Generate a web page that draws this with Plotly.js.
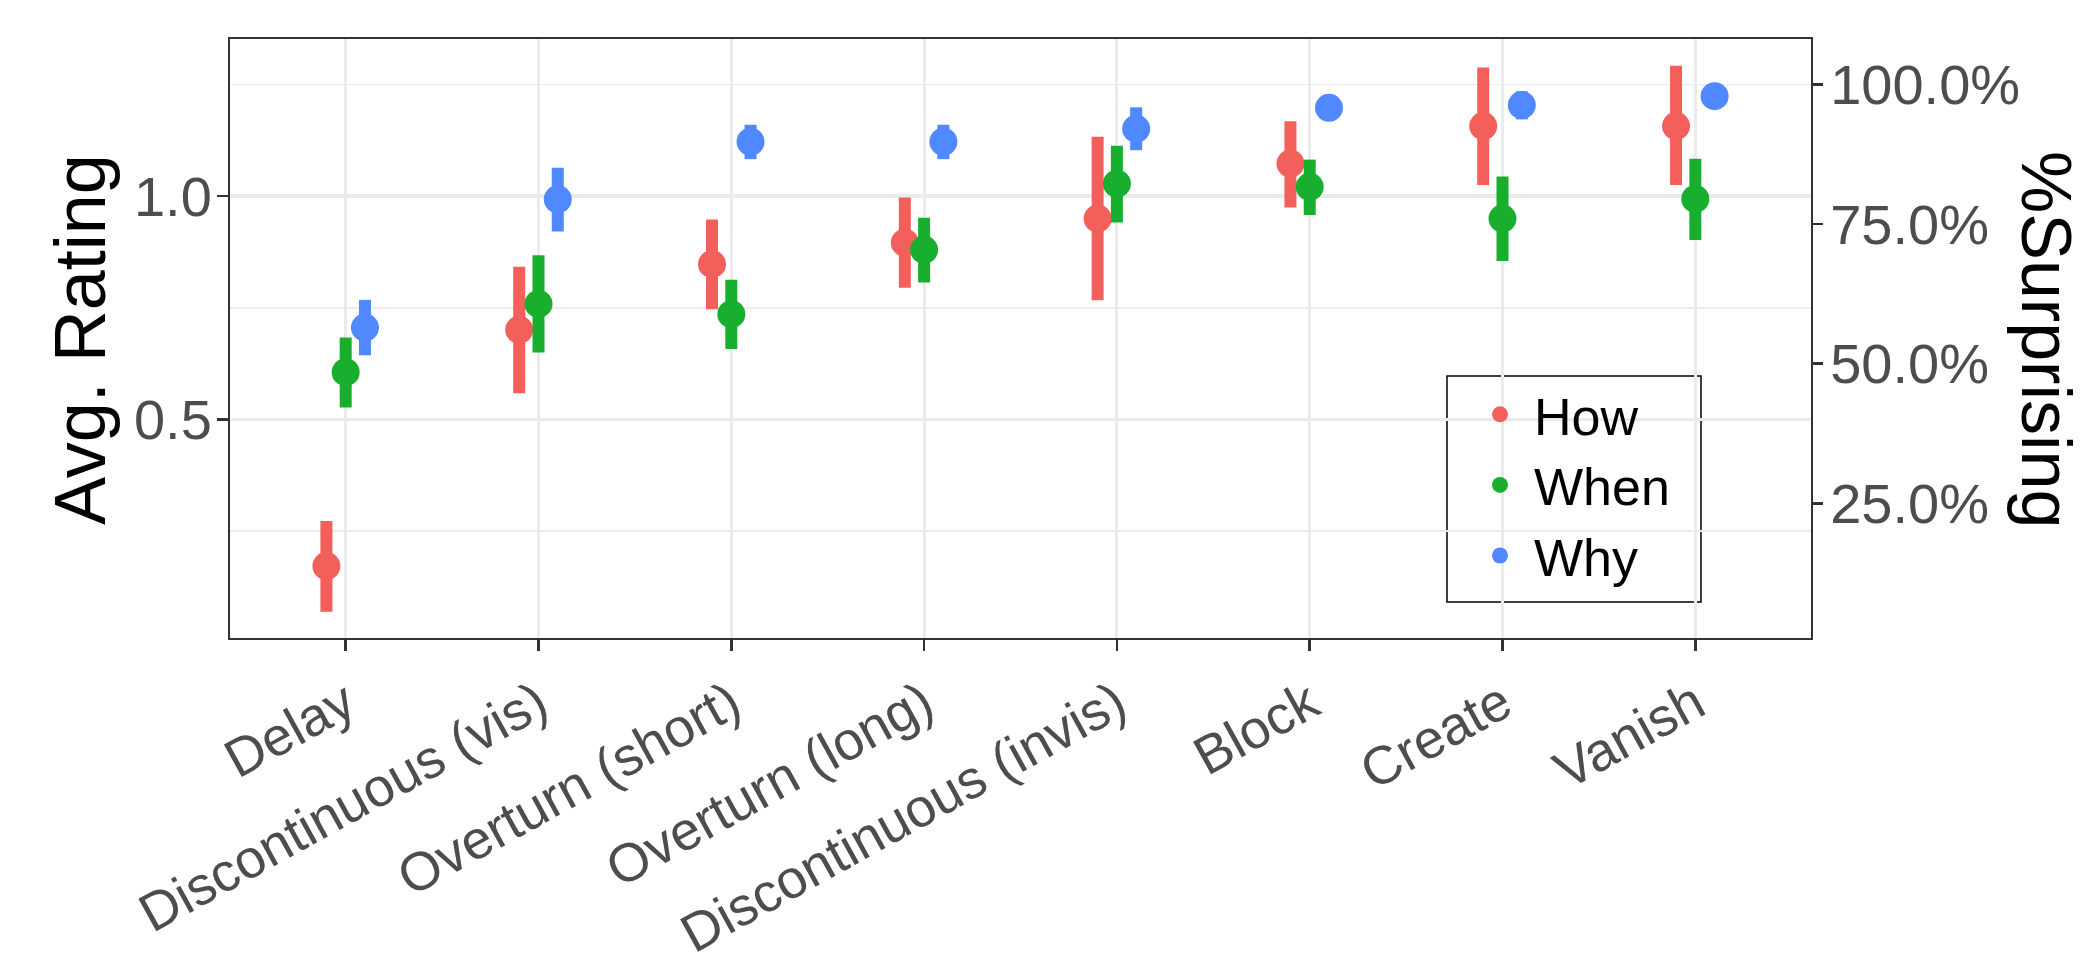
<!DOCTYPE html>
<html>
<head>
<meta charset="utf-8">
<script src="https://cdn.plot.ly/plotly-3.0.1.min.js"></script>
<style>
html,body{margin:0;padding:0;background:#fff;}
#chart{width:2088px;height:959px;}
</style>
</head>
<body>
<div id="chart"></div>
<script>
// ---- data ----
const categories = ['Delay','Discontinuous (vis)','Overturn (short)','Overturn (long)','Discontinuous (invis)','Block','Create','Vanish'];
const seriesNames = ['How','When','Why'];

const howMean = [0.172, 0.701, 0.848, 0.896, 0.950, 1.073, 1.157, 1.157];
const howLow  = [0.070, 0.559, 0.747, 0.795, 0.767, 0.975, 1.025, 1.025];
const howHigh = [0.273, 0.842, 0.948, 0.997, 1.133, 1.168, 1.288, 1.292];

const whenMean = [0.606, 0.759, 0.736, 0.880, 1.028, 1.021, 0.950, 0.994];
const whenLow  = [0.527, 0.650, 0.658, 0.807, 0.941, 0.958, 0.855, 0.902];
const whenHigh = [0.684, 0.868, 0.813, 0.952, 1.113, 1.082, 1.044, 1.084];

const whyMean = [0.706, 0.993, 1.122, 1.122, 1.151, 1.198, 1.204, 1.224];
const whyLow  = [0.644, 0.921, 1.083, 1.083, 1.103, 1.180, 1.172, 1.206];
const whyHigh = [0.768, 1.064, 1.160, 1.160, 1.199, 1.216, 1.235, 1.242];

const leftTicks = [0.5, 1.0];
const rightTicks = [0.25, 0.5, 0.75, 1.0];
const rightTickText = ['25.0%', '50.0%', '75.0%', '100.0%'];

// ---- styling ----
const colors = ['#F3605B', '#18AF2F', '#5088FF'];
const dodge = [-0.1, 0, 0.1];
const FONT = 'Liberation Sans, Arial, Helvetica, sans-serif';
const TICKCOL = '#4D4D4D';
const GRID = '#EBEBEB';

const means = [howMean, whenMean, whyMean];
const lows = [howLow, whenLow, whyLow];
const highs = [howHigh, whenHigh, whyHigh];

const traces = seriesNames.map((name, k) => ({
  type: 'scatter',
  mode: 'markers',
  name: name,
  x: categories.map((c, i) => i + dodge[k]),
  y: means[k],
  marker: {color: colors[k], size: 28, line: {width: 0}},
  error_y: {
    type: 'data', symmetric: false,
    array: means[k].map((m, i) => highs[k][i] - m),
    arrayminus: means[k].map((m, i) => m - lows[k][i]),
    color: colors[k], thickness: 12, width: 0
  },
  hoverinfo: 'x+y'
}));

// invisible trace to activate the secondary (right) axis
traces.push({type: 'scatter', mode: 'markers', x: [0], y: [0.5], yaxis: 'y2',
  marker: {opacity: 0}, showlegend: false, hoverinfo: 'skip'});

const yRange = [0.011, 1.352];
const L = 230, R = 1811, T = 39, B = 638;
const px = v => (v - L) / (R - L);
const py = v => (B - v) / (B - T);

const layout = {
  width: 2088, height: 959,
  paper_bgcolor: '#fff', plot_bgcolor: '#fff',
  margin: {l: L, r: 2088 - R, t: T, b: 959 - B, pad: 0},
  font: {family: FONT, color: TICKCOL},
  showlegend: true,
  xaxis: {
    range: [-0.6, 7.6],
    tickvals: categories.map((c, i) => i),
    ticktext: categories,
    tickangle: -29,
    tickfont: {family: FONT, size: 54, color: TICKCOL},
    ticks: 'outside', ticklen: 11, tickwidth: 2.5, tickcolor: '#333333',
    showgrid: true, gridcolor: GRID, gridwidth: 3,
    showline: true, linecolor: '#333333', linewidth: 2, mirror: true,
    zeroline: false, fixedrange: true
  },
  yaxis: {
    range: yRange,
    tickvals: leftTicks,
    ticktext: leftTicks.map(v => v.toFixed(1)),
    tickfont: {family: FONT, size: 56, color: TICKCOL},
    ticks: 'outside', ticklen: 11, tickwidth: 2.5, tickcolor: '#333333',
    ticklabelstandoff: -6,
    showgrid: true, gridcolor: GRID, gridwidth: 3.5,
    minor: {tickvals: [0.25, 0.75, 1.25], showgrid: true, gridcolor: GRID, gridwidth: 1.8, ticks: ''},
    showline: true, linecolor: '#333333', linewidth: 2, mirror: true,
    zeroline: false
  },
  yaxis2: {
    overlaying: 'y', side: 'right',
    range: [yRange[0] / 1.25, yRange[1] / 1.25],
    tickvals: rightTicks, ticktext: rightTickText,
    tickfont: {family: FONT, size: 56, color: TICKCOL},
    ticks: 'outside', ticklen: 11, tickwidth: 2.5, tickcolor: '#333333',
    ticklabelstandoff: -4,
    showgrid: false, zeroline: false, showline: false
  },
  legend: {
    x: px(1466), xanchor: 'left',
    y: py(374), yanchor: 'top',
    bgcolor: 'rgba(0,0,0,0)', borderwidth: 0,
    font: {family: FONT, size: 52, color: '#000'},
    itemwidth: 58, tracegroupgap: 0
  },
  shapes: [{
    type: 'rect', xref: 'paper', yref: 'paper', layer: 'between',
    x0: px(1447), x1: px(1701), y0: py(602), y1: py(376),
    line: {color: '#000', width: 1.5}, fillcolor: '#fff'
  }],
  annotations: [{
    text: 'Avg. Rating', xref: 'paper', yref: 'paper',
    x: px(80), y: py(340), xanchor: 'center', yanchor: 'middle',
    textangle: -90, showarrow: false,
    font: {family: FONT, size: 72, color: '#000'}
  }, {
    text: '%Surprising', xref: 'paper', yref: 'paper',
    x: px(2046), y: py(339), xanchor: 'center', yanchor: 'middle',
    textangle: 90, showarrow: false,
    font: {family: FONT, size: 70, color: '#000'}
  }]
};

Plotly.newPlot('chart', traces, layout, {displayModeBar: false, staticPlot: true});
</script>
</body>
</html>
